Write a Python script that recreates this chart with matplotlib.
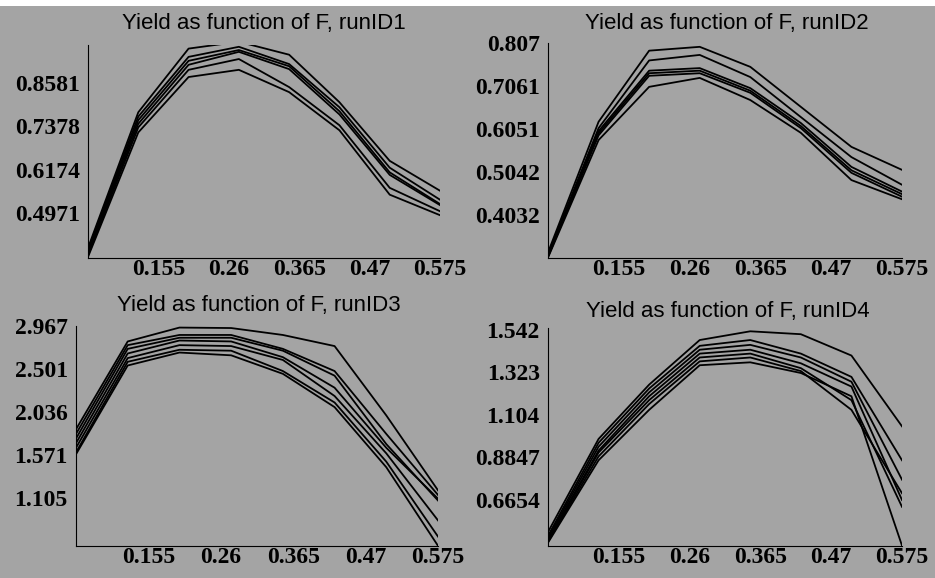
import matplotlib
matplotlib.use("Agg")
from matplotlib import pyplot as plt
from matplotlib.patches import Rectangle

# F values (x axis), same for every run
F = [0.05, 0.125, 0.2, 0.275, 0.35, 0.425, 0.5, 0.575]
xticks = [0.155, 0.26, 0.365, 0.47, 0.575]

# runID1
run1 = [
    [0.400, 0.777, 0.954, 0.973, 0.937, 0.805, 0.642, 0.559],
    [0.395, 0.765, 0.931, 0.959, 0.911, 0.791, 0.623, 0.534],
    [0.390, 0.755, 0.920, 0.950, 0.905, 0.780, 0.610, 0.522],
    [0.385, 0.745, 0.909, 0.945, 0.897, 0.771, 0.603, 0.519],
    [0.380, 0.735, 0.895, 0.925, 0.847, 0.741, 0.567, 0.502],
    [0.375, 0.721, 0.875, 0.895, 0.833, 0.727, 0.548, 0.491],
]
yticks1 = [0.4971, 0.6174, 0.7378, 0.8581]

# runID2
run2 = [
    [0.315, 0.622, 0.789, 0.798, 0.751, 0.657, 0.563, 0.509],
    [0.310, 0.607, 0.766, 0.779, 0.727, 0.633, 0.539, 0.474],
    [0.308, 0.600, 0.742, 0.748, 0.701, 0.619, 0.516, 0.458],
    [0.306, 0.595, 0.736, 0.742, 0.695, 0.612, 0.508, 0.452],
    [0.305, 0.590, 0.730, 0.736, 0.690, 0.607, 0.502, 0.446],
    [0.303, 0.579, 0.704, 0.725, 0.673, 0.596, 0.485, 0.440],
]
yticks2 = [0.4032, 0.5042, 0.6051, 0.7061, 0.807]

# runID3
run3 = [
    [1.85, 2.80, 2.95, 2.945, 2.87, 2.75, 2.00, 1.19],
    [1.80, 2.76, 2.87, 2.87, 2.72, 2.48, 1.80, 1.14],
    [1.75, 2.72, 2.84, 2.84, 2.70, 2.43, 1.69, 1.08],
    [1.70, 2.67, 2.81, 2.80, 2.63, 2.30, 1.65, 1.10],
    [1.65, 2.62, 2.76, 2.75, 2.60, 2.21, 1.59, 0.865],
    [1.60, 2.58, 2.71, 2.70, 2.48, 2.14, 1.50, 0.69],
    [1.58, 2.54, 2.68, 2.65, 2.45, 2.09, 1.44, 0.59],
]
yticks3 = [1.105, 1.571, 2.036, 2.501, 2.967]

# runID4
run4 = [
    [0.500, 0.98, 1.26, 1.49, 1.535, 1.52, 1.41, 1.045],
    [0.480, 0.96, 1.24, 1.46, 1.49, 1.42, 1.30, 0.87],
    [0.470, 0.94, 1.22, 1.44, 1.465, 1.40, 1.275, 0.77],
    [0.460, 0.92, 1.20, 1.42, 1.44, 1.37, 1.25, 0.665],
    [0.455, 0.91, 1.18, 1.40, 1.42, 1.345, 1.18, 0.63],
    [0.450, 0.89, 1.16, 1.38, 1.40, 1.33, 1.13, 0.70],
    [0.445, 0.87, 1.13, 1.36, 1.375, 1.32, 1.20, 0.43],
]
yticks4 = [0.6654, 0.8847, 1.104, 1.323, 1.542]

W, H = 935, 578
bg = "#a4a4a4"

fig = plt.figure(figsize=(W / 100, H / 100), dpi=100, facecolor=bg)
fig.patches.append(Rectangle((0, 1 - 6 / H), 1, 6 / H, transform=fig.transFigure,
                             facecolor="white", edgecolor="none", zorder=-1))

# panel boxes in pixels: left, right, top, bottom
boxes = [(88, 440, 45, 258), (548, 902, 43, 258),
         (76, 438, 326, 546), (548, 902, 328, 546)]
ylims = [(0.372, 0.964), (0.302, 0.807), (0.588, 2.96), (0.428, 1.552)]
runs = [run1, run2, run3, run4]
yticks = [yticks1, yticks2, yticks3, yticks4]
ylabels = [["0.4971", "0.6174", "0.7378", "0.8581"],
           ["0.4032", "0.5042", "0.6051", "0.7061", "0.807"],
           ["1.105", "1.571", "2.036", "2.501", "2.967"],
           ["0.6654", "0.8847", "1.104", "1.323", "1.542"]]
titles = ["Yield as function of F, runID1", "Yield as function of F, runID2",
          "Yield as function of F, runID3", "Yield as function of F, runID4"]
title_pos = [(264, 24), (727, 24), (259, 306), (728, 311)]

tickfont = dict(family="Liberation Serif", weight="bold", size=17)

for i in range(4):
    l, r, t, b = boxes[i]
    ax = fig.add_axes([l / W, 1 - b / H, (r - l) / W, (b - t) / H])
    ax.set_facecolor("none")
    for row in runs[i]:
        ax.plot(F, row, color="black", lw=1.3)
    ax.set_xlim(0.05, 0.575)
    ax.set_ylim(*ylims[i])
    ax.spines["top"].set_visible(False)
    ax.spines["right"].set_visible(False)
    ax.spines["left"].set_color("black")
    ax.spines["bottom"].set_color("black")
    ax.spines["left"].set_linewidth(0.8)
    ax.spines["bottom"].set_linewidth(0.8)
    ax.set_xticks(xticks)
    ax.set_xticklabels([str(v) for v in xticks], fontdict=tickfont)
    ax.set_yticks(yticks[i])
    ax.set_yticklabels(ylabels[i], fontdict=tickfont)
    ax.tick_params(axis="both", length=0)
    ax.tick_params(axis="x", pad=1)
    ax.tick_params(axis="y", pad=6)
    fig.text(title_pos[i][0] / W, 1 - title_pos[i][1] / H, titles[i],
             ha="center", va="center", fontsize=16,
             family=["Liberation Sans Narrow", "Liberation Sans", "DejaVu Sans"])

fig.savefig("out.png", dpi=100, facecolor=bg)
